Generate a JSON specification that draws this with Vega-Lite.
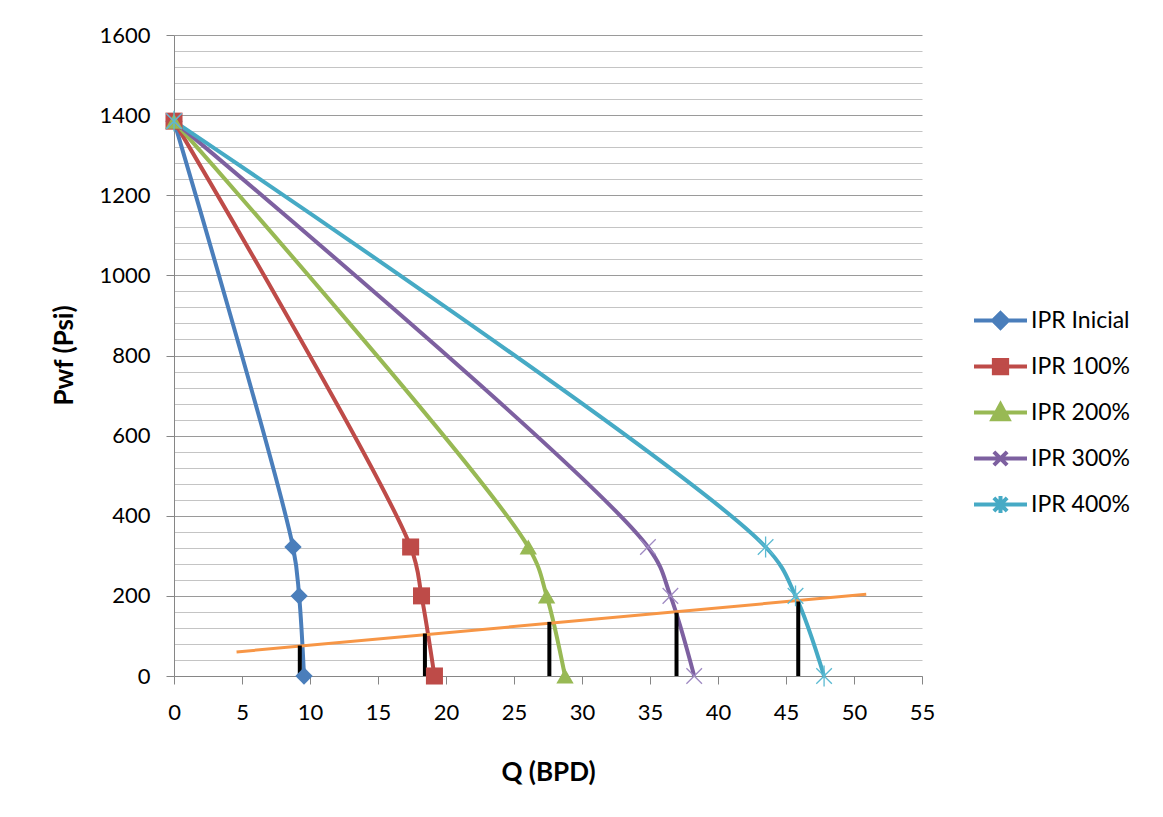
{
  "$schema": "https://vega.github.io/schema/vega-lite/v6.json",
  "width": 748,
  "height": 641,
  "autosize": {"type": "none"},
  "padding": {"left": 174, "top": 35, "right": 241, "bottom": 141},
  "background": "white",
  "config": {
    "view": {"stroke": null},
    "font": "Lato",
    "axis": {"labelFont": "Lato", "titleFont": "Lato", "labelColor": "#000", "titleColor": "#000", "domainColor": "#868686", "tickColor": "#868686"}
  },
  "datasets": {
    "ipr": [
      {"s": "IPR Inicial", "o": 0, "q": 0, "p": 1385},
      {"s": "IPR Inicial", "o": 1, "q": 8.75, "p": 322},
      {"s": "IPR Inicial", "o": 2, "q": 9.2, "p": 200},
      {"s": "IPR Inicial", "o": 3, "q": 9.56, "p": 0},
      {"s": "IPR 100%", "o": 0, "q": 0, "p": 1385},
      {"s": "IPR 100%", "o": 1, "q": 17.4, "p": 322},
      {"s": "IPR 100%", "o": 2, "q": 18.2, "p": 200},
      {"s": "IPR 100%", "o": 3, "q": 19.15, "p": 0},
      {"s": "IPR 200%", "o": 0, "q": 0, "p": 1385},
      {"s": "IPR 200%", "o": 1, "q": 26.05, "p": 322},
      {"s": "IPR 200%", "o": 2, "q": 27.4, "p": 200},
      {"s": "IPR 200%", "o": 3, "q": 28.75, "p": 0},
      {"s": "IPR 300%", "o": 0, "q": 0, "p": 1385},
      {"s": "IPR 300%", "o": 1, "q": 34.85, "p": 322},
      {"s": "IPR 300%", "o": 2, "q": 36.5, "p": 200},
      {"s": "IPR 300%", "o": 3, "q": 38.25, "p": 0},
      {"s": "IPR 400%", "o": 0, "q": 0, "p": 1385},
      {"s": "IPR 400%", "o": 1, "q": 43.5, "p": 322},
      {"s": "IPR 400%", "o": 2, "q": 45.7, "p": 200},
      {"s": "IPR 400%", "o": 3, "q": 47.8, "p": 0}
    ],
    "vlp": [
      {"q": 4.6, "p": 60},
      {"q": 50.9, "p": 204}
    ],
    "ops": [
      {"q": 9.25, "p": 76},
      {"q": 18.45, "p": 106},
      {"q": 27.6, "p": 135},
      {"q": 36.95, "p": 158},
      {"q": 45.9, "p": 186}
    ]
  },
  "layer": [
    {
      "data": {"name": "ipr"},
      "mark": {"type": "line", "interpolate": "catmull-rom", "strokeWidth": 4},
      "encoding": {
        "x": {"field": "q", "type": "quantitative", "scale": {"domain": [0, 55], "nice": false},
          "axis": {"title": "Q (BPD)", "values": [0,5,10,15,20,25,30,35,40,45,50,55], "format": "d", "tickCount": 100, "labelOverlap": false, "grid": false, "tickSize": 8, "labelPadding": 18, "labelFontSize": 22, "titleFontSize": 26, "titleFontWeight": "bold", "titleX": 374, "titleY": 96, "titleBaseline": "middle", "labelFlush": false}},
        "y": {"field": "p", "type": "quantitative", "scale": {"domain": [0, 1600], "nice": false},
          "axis": {"title": "Pwf (Psi)", "values": [0,40,80,120,160,200,240,280,320,360,400,440,480,520,560,600,640,680,720,760,800,840,880,920,960,1000,1040,1080,1120,1160,1200,1240,1280,1320,1360,1400,1440,1480,1520,1560,1600],
            "tickCount": 100,
            "labelOverlap": false,
            "labelExpr": "datum.value % 200 === 0 ? datum.label : ''",
            "format": "d",
            "grid": true,
            "gridColor": {"condition": {"test": "datum.value % 200 === 0", "value": "#9a9a9a"}, "value": "#c4c4c4"},
            "gridWidth": 1.2,
            "tickOpacity": {"condition": {"test": "datum.value % 200 === 0", "value": 1}, "value": 0},
            "tickSize": 8, "labelPadding": 16, "labelFontSize": 22, "labelFlush": false,
            "titleFontSize": 26, "titleFontWeight": "bold", "titleX": -110, "titleY": 320, "titleBaseline": "middle", "titleAngle": -90}},
        "color": {"field": "s", "type": "nominal",
          "scale": {"domain": ["IPR Inicial", "IPR 100%", "IPR 200%", "IPR 300%", "IPR 400%"], "range": ["#4A7EBB", "#BE4B48", "#98B954", "#7D60A0", "#46AAC5"]},
          "legend": {
            "title": null, "orient": "none", "legendX": 798, "legendY": 257,
            "labelFontSize": 23, "labelFont": "Lato", "labelColor": "#000", "labelOffset": 2,
            "symbolSize": 2809, "symbolStrokeWidth": 4, "rowPadding": 2,
            "encode": {"symbols": {"update": {
              "shape": {"signal": "datum.value === 'IPR Inicial' ? 'M-1,0H1M0,-0.28L0.28,0L0,0.28L-0.28,0Z' : datum.value === 'IPR 100%' ? 'M-1,0H1M-0.25,-0.25H0.25V0.25H-0.25Z' : datum.value === 'IPR 200%' ? 'M-1,0H1M0,-0.3L0.3,0.25H-0.3Z' : datum.value === 'IPR 300%' ? 'M-1,0H1M-0.25,-0.25L0.25,0.25M-0.25,0.25L0.25,-0.25' : 'M-1,0H1M-0.25,-0.25L0.25,0.25M-0.25,0.25L0.25,-0.25M0,-0.32V0.32'"},
              "fill": {"signal": "scale('color', datum.value)"},
              "stroke": {"signal": "scale('color', datum.value)"}
            }}}
          }},
        "order": {"field": "o", "type": "quantitative"}
      }
    },
    {
      "data": {"name": "vlp"},
      "mark": {"type": "line", "color": "#F79646", "strokeWidth": 3},
      "encoding": {
        "x": {"field": "q", "type": "quantitative"},
        "y": {"field": "p", "type": "quantitative"}
      }
    },
    {
      "data": {"name": "ops"},
      "mark": {"type": "rule", "color": "#000000", "strokeWidth": 4},
      "encoding": {
        "x": {"field": "q", "type": "quantitative"},
        "y": {"field": "p", "type": "quantitative"},
        "y2": {"datum": 0}
      }
    },
    {
      "data": {"name": "ipr"},
      "transform": [{"filter": "datum.s === 'IPR Inicial'"}],
      "mark": {"type": "point", "shape": "diamond", "filled": true, "size": 300, "color": "#4A7EBB", "opacity": 1},
      "encoding": {"x": {"field": "q", "type": "quantitative"}, "y": {"field": "p", "type": "quantitative"}}
    },
    {
      "data": {"name": "ipr"},
      "transform": [{"filter": "datum.s === 'IPR 100%'"}],
      "mark": {"type": "point", "shape": "square", "filled": true, "size": 290, "color": "#BE4B48", "opacity": 1},
      "encoding": {"x": {"field": "q", "type": "quantitative"}, "y": {"field": "p", "type": "quantitative"}}
    },
    {
      "data": {"name": "ipr"},
      "transform": [{"filter": "datum.s === 'IPR 200%'"}],
      "mark": {"type": "point", "shape": "triangle-up", "filled": true, "size": 300, "color": "#98B954", "opacity": 1},
      "encoding": {"x": {"field": "q", "type": "quantitative"}, "y": {"field": "p", "type": "quantitative"}}
    },
    {
      "data": {"name": "ipr"},
      "transform": [{"filter": "datum.s === 'IPR 300%'"}],
      "mark": {"type": "point", "shape": "M-0.9,-0.9L0.9,0.9M-0.9,0.9L0.9,-0.9", "filled": false, "size": 300, "color": "#9F8AC2", "strokeWidth": 1.3, "opacity": 1},
      "encoding": {"x": {"field": "q", "type": "quantitative"}, "y": {"field": "p", "type": "quantitative"}}
    },
    {
      "data": {"name": "ipr"},
      "transform": [{"filter": "datum.s === 'IPR 400%'"}],
      "mark": {"type": "point", "shape": "M-0.9,-0.9L0.9,0.9M-0.9,0.9L0.9,-0.9M0,-1.2V1.2", "filled": false, "size": 300, "color": "#5BBAD2", "strokeWidth": 1.3, "opacity": 1},
      "encoding": {"x": {"field": "q", "type": "quantitative"}, "y": {"field": "p", "type": "quantitative"}}
    }
  ]
}
